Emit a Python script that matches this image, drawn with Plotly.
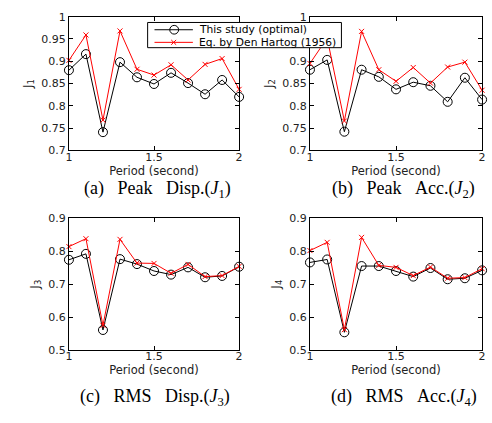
import plotly.graph_objects as go

period = [1.0, 1.1, 1.2, 1.3, 1.4, 1.5, 1.6, 1.7, 1.8, 1.9, 2.0]

j1_opt = [0.880, 0.916, 0.741, 0.898, 0.864, 0.849, 0.874, 0.851, 0.826, 0.858, 0.820]
j1_dh = [0.902, 0.959, 0.768, 0.968, 0.882, 0.869, 0.892, 0.858, 0.893, 0.906, 0.837]

j2_opt = [0.881, 0.903, 0.742, 0.881, 0.865, 0.837, 0.853, 0.845, 0.809, 0.863, 0.814]
j2_dh = [0.895, 0.952, 0.766, 0.967, 0.881, 0.855, 0.886, 0.851, 0.887, 0.898, 0.835]

j3_opt = [0.774, 0.792, 0.561, 0.776, 0.761, 0.740, 0.729, 0.751, 0.721, 0.725, 0.753]
j3_dh = [0.814, 0.838, 0.575, 0.836, 0.764, 0.763, 0.733, 0.760, 0.723, 0.726, 0.754]

j4_opt = [0.766, 0.775, 0.554, 0.755, 0.755, 0.740, 0.723, 0.749, 0.715, 0.718, 0.742]
j4_dh = [0.802, 0.827, 0.562, 0.842, 0.757, 0.751, 0.726, 0.752, 0.718, 0.720, 0.747]

legend_names = ["This study (optimal)", "Eq. by Den Hartog (1956)"]
y_titles = ["J<sub>1</sub>", "J<sub>2</sub>", "J<sub>3</sub>", "J<sub>4</sub>"]
S = "&nbsp;&nbsp;&nbsp;"
captions = [
    "(a)" + S + "Peak" + S + "Disp.(<i>J</i><sub>1</sub>)",
    "(b)" + S + "Peak" + S + "Acc.(<i>J</i><sub>2</sub>)",
    "(c)" + S + "RMS" + S + "Disp.(<i>J</i><sub>3</sub>)",
    "(d)" + S + "RMS" + S + "Acc.(<i>J</i><sub>4</sub>)",
]
x_title = "Period (second)"

W, H = 492, 423
panels = [
    (j1_opt, j1_dh, (66, 239), (11, 149), (0.7, 1.0), 0.05),
    (j2_opt, j2_dh, (311, 486), (11, 149), (0.7, 1.0), 0.05),
    (j3_opt, j3_dh, (66, 239), (219, 355), (0.5, 0.9), 0.1),
    (j4_opt, j4_dh, (311, 486), (219, 355), (0.5, 0.9), 0.1),
]
caption_pos = [(156, 189), (406, 189), (154, 404), (407, 404)]

SANS = "DejaVu Sans, Arial"
fig = go.Figure()
tickfont = dict(family=SANS, size=11, color="#222")
layout = {}
for i, (opt, dh, (x0, x1), (y0, y1), yr, dt) in enumerate(panels):
    n = "" if i == 0 else str(i + 1)
    xa, ya = "x" + n, "y" + n
    fig.add_trace(go.Scatter(
        x=period, y=opt, xaxis=xa, yaxis=ya, mode="lines+markers",
        name=legend_names[0], showlegend=False, cliponaxis=False,
        line=dict(color="black", width=1),
        marker=dict(symbol="circle-open", size=9, color="black", line=dict(width=1)),
    ))
    fig.add_trace(go.Scatter(
        x=period, y=dh, xaxis=xa, yaxis=ya, mode="lines+markers",
        name=legend_names[1], showlegend=False, cliponaxis=False,
        line=dict(color="#ff0000", width=1),
        marker=dict(symbol="x-thin-open", size=5, color="#ff0000", line=dict(width=1, color="#ff0000")),
    ))
    common = dict(showline=True, linecolor="black", linewidth=1, mirror="allticks",
                  ticks="inside", ticklen=4, tickcolor="black", showgrid=False,
                  zeroline=False, tickfont=tickfont)
    layout["xaxis" + n] = dict(
        domain=[x0 / W, x1 / W], anchor=ya, range=[1, 2], tickvals=[1, 1.5, 2],
        ticktext=["1", "1.5", "2"], ticklabelstandoff=-4,
        title=dict(text=x_title, font=dict(family=SANS, size=11.5, color="#222"), standoff=0),
        **common)
    ticks_y = []
    v = yr[0]
    while v <= yr[1] + 1e-9:
        ticks_y.append(round(v, 2))
        v += dt
    labels = [("%g" % t) for t in ticks_y]
    if i == 1:
        labels = [("" if abs(t - 0.95) < 1e-6 else l) for t, l in zip(ticks_y, labels)]
    layout["yaxis" + n] = dict(
        domain=[1 - y1 / H, 1 - y0 / H], anchor=xa, range=list(yr), tickvals=ticks_y,
        ticktext=labels,
        title=dict(text=y_titles[i], font=dict(family=SANS, size=12, color="#222"), standoff=6),
        **common)

annotations = []
for cap, (cx, cy) in zip(captions, caption_pos):
    annotations.append(dict(text=cap, x=cx / W, y=1 - cy / H, xref="paper", yref="paper",
                            showarrow=False, xanchor="center", yanchor="middle",
                            font=dict(family="Liberation Serif, Times New Roman", size=18, color="black")))

# custom legend (box, sample lines, symbols, labels)
def px(x):
    return x / W

def py(y):
    return 1 - y / H

shapes = [dict(type="rect", xref="paper", yref="paper", x0=px(146), x1=px(343), y0=py(17), y1=py(43),
               line=dict(color="black", width=1), fillcolor="white", layer="above")]
rows = [(24.5, "black", "circle"), (37.5, "#ff0000", "x")]
for (ry, col, sym), name in zip(rows, legend_names):
    shapes.append(dict(type="line", xref="paper", yref="paper", x0=px(153), x1=px(192), y0=py(ry), y1=py(ry),
                       line=dict(color=col, width=1), layer="above"))
    if sym == "circle":
        shapes.append(dict(type="circle", xref="paper", yref="paper", x0=px(168.5), x1=px(177.5),
                           y0=py(ry - 4.5), y1=py(ry + 4.5), line=dict(color=col, width=1), layer="above"))
    else:
        for a, b in [((-2.5, -2.5), (2.5, 2.5)), ((-2.5, 2.5), (2.5, -2.5))]:
            shapes.append(dict(type="line", xref="paper", yref="paper", x0=px(172.5 + a[0]), x1=px(172.5 + b[0]),
                               y0=py(ry + a[1]), y1=py(ry + b[1]), line=dict(color=col, width=1), layer="above"))
    annotations.append(dict(text=name, x=px(196), y=py(ry), xref="paper", yref="paper", showarrow=False,
                            xanchor="left", yanchor="middle",
                            font=dict(family=SANS, size=10.7, color="black")))

fig.update_layout(
    width=W, height=H, margin=dict(l=0, r=0, t=0, b=0),
    paper_bgcolor="white", plot_bgcolor="white",
    showlegend=False,
    annotations=annotations,
    shapes=shapes,
    **layout,
)
fig.write_html("out.html")
